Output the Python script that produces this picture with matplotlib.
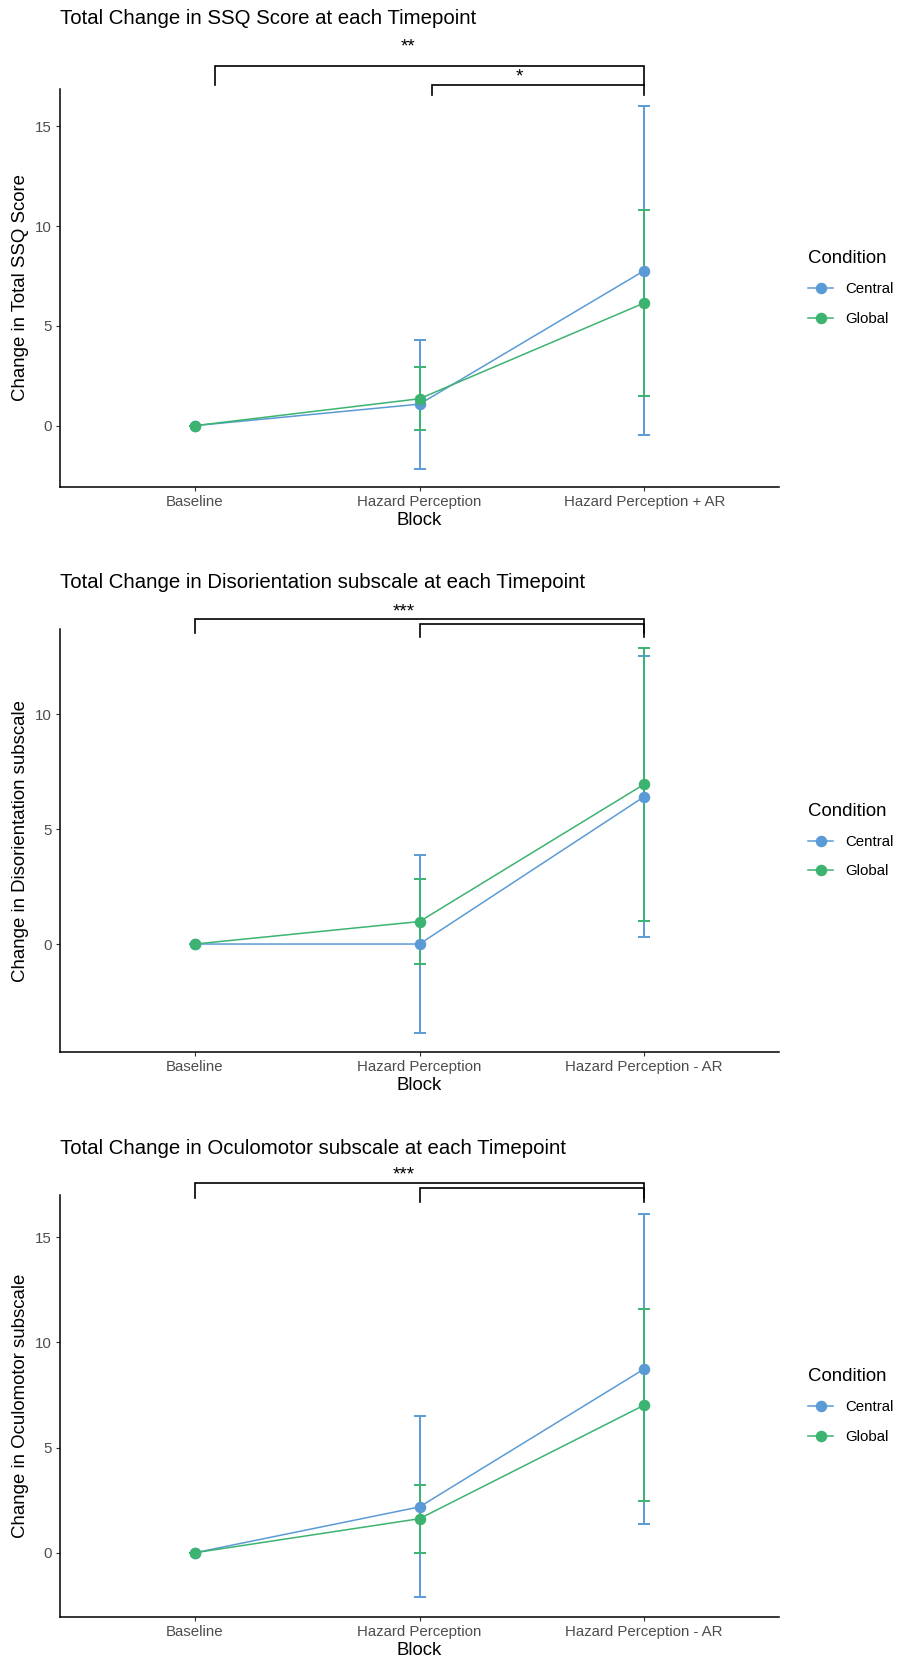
import matplotlib
matplotlib.use("Agg")
import matplotlib.pyplot as plt
from matplotlib.lines import Line2D

plt.rcParams['font.family'] = ['Liberation Sans', 'DejaVu Sans']

# categories and conditions
blocks = [1, 2, 3]
conditions = ["Central", "Global"]
colors = {"Central": "#5B9BD5", "Global": "#3CB371"}

# panel 1: total SSQ score
ssq_labels = ["Baseline", "Hazard Perception", "Hazard Perception + AR"]
ssq_mean = {"Central": [0, 1.08, 7.77], "Global": [0, 1.35, 6.15]}
ssq_sd = {"Central": [0, 3.23, 8.25], "Global": [0, 1.58, 4.67]}

# panel 2: disorientation
dis_labels = ["Baseline", "Hazard Perception", "Hazard Perception - AR"]
dis_mean = {"Central": [0, 0.0, 6.42], "Global": [0, 0.98, 6.96]}
dis_sd = {"Central": [0, 3.86, 6.11], "Global": [0, 1.86, 5.95]}

# panel 3: oculomotor
ocu_labels = ["Baseline", "Hazard Perception", "Hazard Perception - AR"]
ocu_mean = {"Central": [0, 2.18, 8.74], "Global": [0, 1.62, 7.02]}
ocu_sd = {"Central": [0, 4.30, 7.39], "Global": [0, 1.61, 4.57]}

# significance brackets: (x1, x2, y, leg bottom)
ssq_brackets = [(1.09, 3.0, 18.03, 17.08), (2.055, 3.0, 17.08, 16.58)]
ssq_stars = [("**", 1.95, 19.0), ("*", 2.445, 17.47)]
dis_brackets = [(1.0, 3.0, 14.14, 13.56), (2.0, 3.0, 13.94, 13.36)]
dis_stars = [("***", 1.93, 14.47)]
ocu_brackets = [(1.0, 3.0, 17.57, 16.88), (2.0, 3.0, 17.33, 16.69)]
ocu_stars = [("***", 1.93, 17.96)]

W, H = 898, 1663
fig = plt.figure(figsize=(W / 100, H / 100), dpi=100)

panels = [
    dict(title="Total Change in SSQ Score at each Timepoint", ylabel="Change in Total SSQ Score",
         labels=ssq_labels, mean=ssq_mean, sd=ssq_sd, brackets=ssq_brackets, stars=ssq_stars,
         box=(89, 486.7), ylim=(-3.06, 16.88), yticks=[0, 5, 10, 15], title_y=18.3),
    dict(title="Total Change in Disorientation subscale at each Timepoint", ylabel="Change in Disorientation subscale",
         labels=dis_labels, mean=dis_mean, sd=dis_sd, brackets=dis_brackets, stars=dis_stars,
         box=(629.3, 1051.7), ylim=(-4.69, 13.71), yticks=[0, 5, 10], title_y=583),
    dict(title="Total Change in Oculomotor subscale at each Timepoint", ylabel="Change in Oculomotor subscale",
         labels=ocu_labels, mean=ocu_mean, sd=ocu_sd, brackets=ocu_brackets, stars=ocu_stars,
         box=(1195, 1616.7), ylim=(-3.04, 17.01), yticks=[0, 5, 10, 15], title_y=1148),
]

left_px, right_px = 60, 779

for p in panels:
    top, bot = p["box"]
    ax = fig.add_axes([left_px / W, 1 - bot / H, (right_px - left_px) / W, (bot - top) / H])

    for k, cond in enumerate(conditions):
        c = colors[cond]
        ax.plot(blocks, p["mean"][cond], color=c, lw=1.1, zorder=2 + k * 0.1)
        ax.errorbar(blocks, p["mean"][cond], yerr=p["sd"][cond], fmt="none", ecolor=c,
                    elinewidth=1.4, capsize=4.2, capthick=1.4, zorder=3 + k * 0.1)
        ax.plot(blocks, p["mean"][cond], "o", color=c, ms=8.3, mew=0, zorder=4 + k * 0.1)

    ax.set_xlim(0.4, 3.6)
    ax.set_ylim(*p["ylim"])
    ax.set_xticks(blocks)
    ax.set_xticklabels(p["labels"])
    ax.set_yticks(p["yticks"])
    ax.tick_params(colors="#333333", labelcolor="#4D4D4D", labelsize=10.8, length=2.9, width=0.8, pad=3.2)
    ax.set_xlabel("Block", fontsize=13.4, labelpad=2)
    ax.set_ylabel(p["ylabel"], fontsize=13.4, labelpad=4)
    for s in ["top", "right"]:
        ax.spines[s].set_visible(False)
    for s in ["left", "bottom"]:
        ax.spines[s].set_linewidth(1.1)
        ax.spines[s].set_color("black")

    for x1, x2, y, yl in p["brackets"]:
        ax.plot([x1, x1, x2, x2], [yl, y, y, yl], color="black", lw=1.2, clip_on=False,
                solid_joinstyle="miter")
    for txt, x, y in p["stars"]:
        ax.text(x, y, txt, ha="center", va="center", fontsize=13.5, clip_on=False)

    fig.text(left_px / W, 1 - p["title_y"] / H, p["title"], fontsize=14.7, va="center", ha="left")

    handles = [Line2D([0], [0], color=colors[c], lw=1.1, marker="o", ms=8.3, mew=0) for c in conditions]
    leg = ax.legend(handles, conditions, title="Condition", loc="center left",
                    bbox_to_anchor=(1.04, 0.5), frameon=False, fontsize=10.8,
                    title_fontsize=13.4, handlelength=1.7, handletextpad=0.8,
                    labelspacing=1.03, borderpad=0, borderaxespad=0, alignment="left")

fig.savefig("out.png", dpi=100)
